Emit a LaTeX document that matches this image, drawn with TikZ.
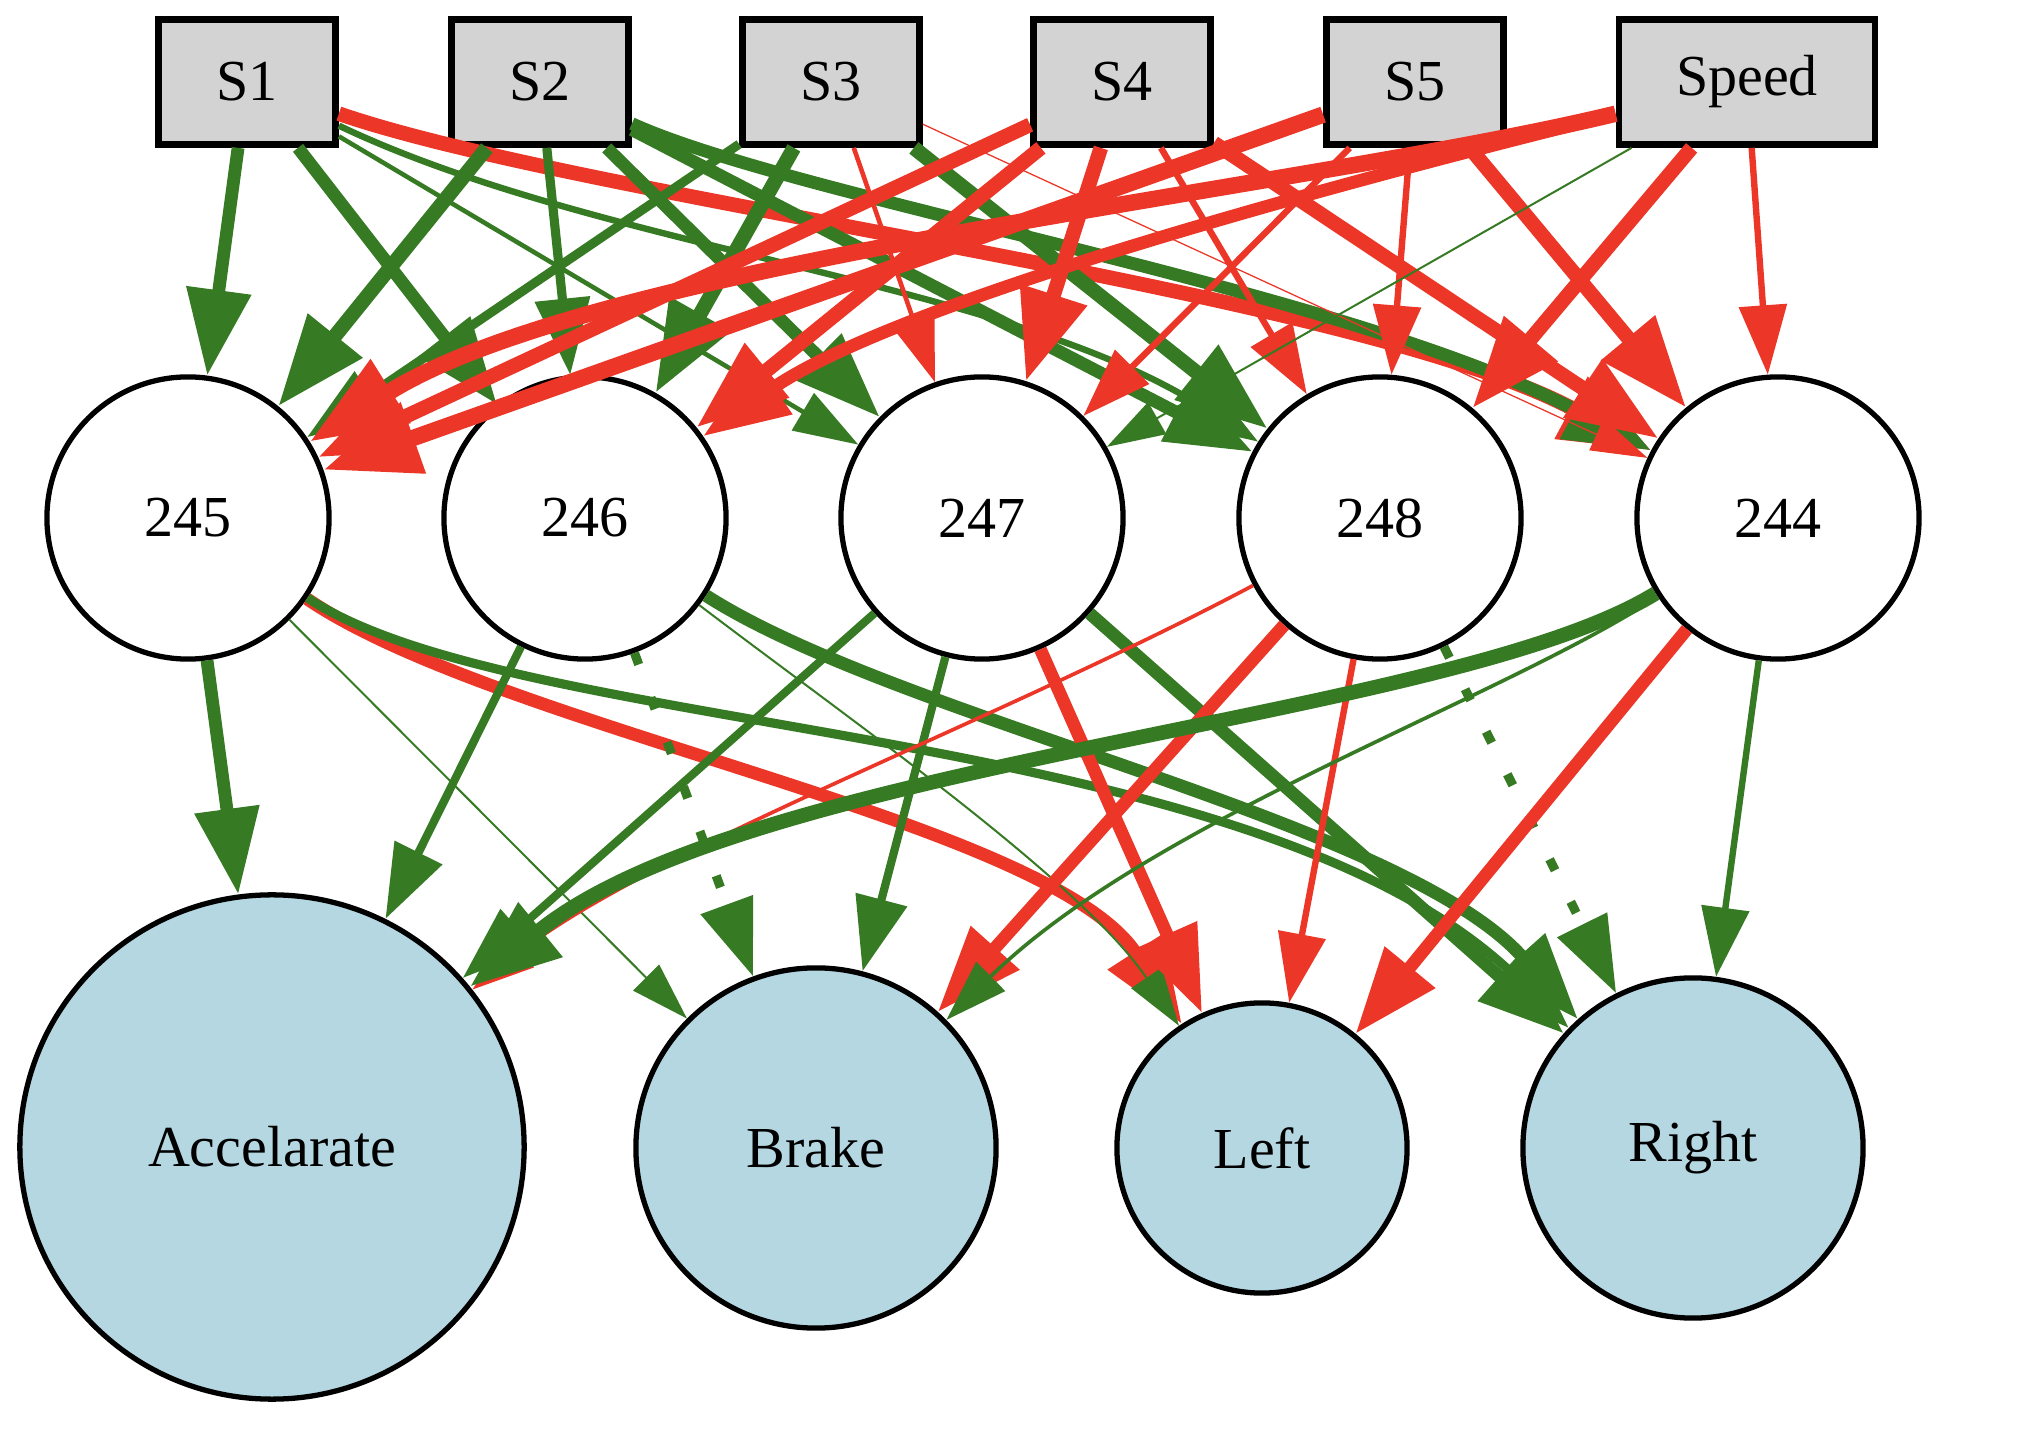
\documentclass[tikz,border=0pt]{standalone}
\usepackage{fontspec}
\setmainfont{Liberation Serif}
\usetikzlibrary{arrows.meta}
\definecolor{poscol}{RGB}{54,123,35}
\definecolor{negcol}{RGB}{236,54,40}
\definecolor{inputfill}{RGB}{211,211,211}
\definecolor{outputfill}{RGB}{180,215,226}
\begin{document}
\begin{tikzpicture}[x=0.01cm, y=-0.01cm,
  every node/.style={font=\fontsize{16.5}{20}\selectfont, inner sep=0pt},
  inbox/.style={draw=black, line width=1.9pt, fill=inputfill, minimum height=1.25cm, minimum width=1.77cm},
  hid/.style={circle, draw=black, line width=1.5pt, fill=white, minimum size=2.82cm},
  outc/.style={circle, draw=black, line width=1.5pt, fill=outputfill},
  conn/.style={-{Triangle[length=15pt 2.6, width=9pt 2.4]}, line width=#1*0.52pt},
  posw/.style={conn=#1, draw=poscol},
  negw/.style={conn=#1, draw=negcol},
  offw/.style={posw=#1, dash pattern=on 3.5pt off 10pt},
]
\useasboundingbox (0,0) rectangle (2032,1434);

% input layer
\node[inbox] (S1) at (247,82) {S1};
\node[inbox] (S2) at (540,82) {S2};
\node[inbox] (S3) at (831,82) {S3};
\node[inbox] (S4) at (1122,82) {S4};
\node[inbox] (S5) at (1415,82) {S5};
\node[inbox, minimum width=2.56cm] (Speed) at (1747,82) {Speed};

% hidden layer
\node[hid] (h245) at (188,518) {245};
\node[hid] (h246) at (585,518) {246};
\node[hid] (h247) at (982,518) {247};
\node[hid] (h248) at (1380,518) {248};
\node[hid] (h244) at (1778,518) {244};

% output layer
\node[outc, minimum size=5.04cm] (acc) at (272,1147) {Accelarate};
\node[outc, minimum size=3.6cm] (brake) at (816,1148) {Brake};
\node[outc, minimum size=2.9cm] (left) at (1262,1148) {Left};
\node[outc, minimum size=3.4cm] (right) at (1693,1148) {Right};

% inputs to hidden nodes
\draw[posw=7] (S1) -- (h245);
\draw[posw=7] (S1) -- (h246);
\draw[posw=2.5] (S1) -- (h247);
\draw[posw=3.5] (S1) .. controls (600,250) and (1000,280) .. (h248);
\draw[negw=8] (S1) .. controls (589,200) and (1350,290) .. (h244);
\draw[posw=8] (S2) -- (h245);
\draw[posw=5] (S2) -- (h246);
\draw[posw=7] (S2) -- (h247);
\draw[posw=7] (S2) -- (h248);
\draw[posw=7] (S2) .. controls (800,200) and (1350,290) .. (h244);
\draw[posw=5] (S3) -- (h245);
\draw[posw=8] (S3) -- (h246);
\draw[negw=2.5] (S3) -- (h247);
\draw[posw=8] (S3) -- (h248);
\draw[negw=0.7] (S3) -- (h244);
\draw[negw=8] (S4) -- (h245);
\draw[negw=8] (S4) -- (h246);
\draw[negw=8] (S4) -- (h247);
\draw[negw=3.5] (S4) -- (h248);
\draw[negw=8] (S4) -- (h244);
\draw[negw=9] (S5) -- (h245);
\draw[negw=3.5] (S5) -- (h247);
\draw[negw=3.5] (S5) -- (h248);
\draw[negw=8] (S5) -- (h244);
\draw[negw=9] (Speed) .. controls (1300,190) and (600,260) .. (h245);
\draw[negw=7] (Speed) .. controls (1350,180) and (900,300) .. (h246);
\draw[posw=1.1] (Speed) -- (h247);
\draw[negw=8] (Speed) -- (h248);
\draw[negw=3.5] (Speed) -- (h244);

% hidden nodes to outputs
\draw[posw=7] (h245) -- (acc);
\draw[posw=1.1] (h245) -- (brake);
\draw[negw=7] (h245) .. controls (500,730) and (1050,820) .. (left);
\draw[posw=5] (h245) .. controls (520,740) and (1250,720) .. (right);
\draw[posw=4.5] (h246) -- (acc);
\draw[offw=5] (h246) -- (brake);
\draw[posw=1.1] (h246) .. controls (850,720) and (1080,880) .. (left);
\draw[posw=7] (h246) .. controls (900,720) and (1400,820) .. (right);
\draw[posw=4.5] (h247) -- (acc);
\draw[posw=4.5] (h247) -- (brake);
\draw[negw=7] (h247) -- (left);
\draw[posw=7] (h247) -- (right);
\draw[negw=2] (h248) .. controls (1000,720) and (650,850) .. (acc);
\draw[negw=7] (h248) -- (brake);
\draw[negw=3.5] (h248) -- (left);
\draw[offw=5] (h248) -- (right);
\draw[posw=8] (h244) .. controls (1450,720) and (750,760) .. (acc);
\draw[posw=2] (h244) .. controls (1500,700) and (1150,820) .. (brake);
\draw[negw=7] (h244) -- (left);
\draw[posw=3.5] (h244) -- (right);
\end{tikzpicture}
\end{document}
